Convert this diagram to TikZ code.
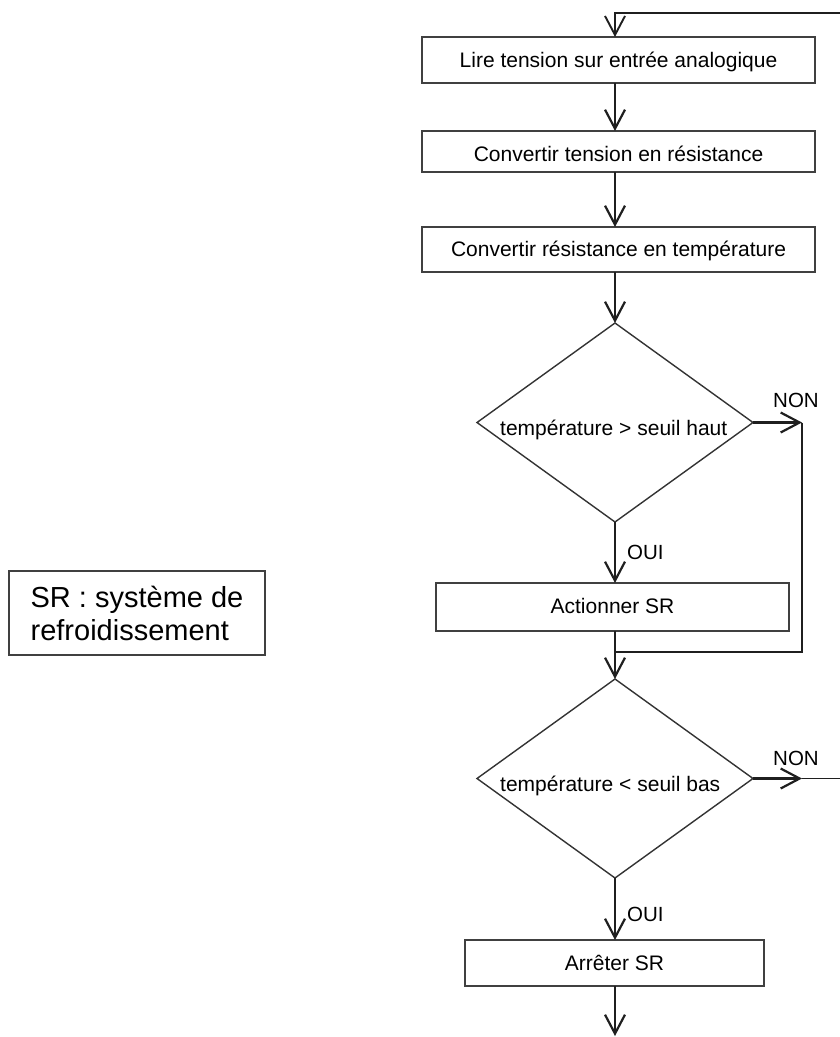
\documentclass[tikz,border=0pt]{standalone}
\usepackage{fontspec}
\setmainfont{Liberation Sans}
\usetikzlibrary{arrows.meta,shapes.geometric}
\begin{document}
\begin{tikzpicture}[x=1pt,y=-1pt,
  box/.style={draw=black!75, line width=1.2pt, rectangle, inner sep=0pt, outer sep=0pt,
              font=\fontsize{21}{25}\selectfont, text depth=0pt},
  srbox/.style={draw=black!75, line width=1.2pt, rectangle, inner sep=0pt, outer sep=0pt,
              align=left, font=\fontsize{29}{33}\selectfont},
  dec/.style={draw=black!80, line width=1.4pt, diamond, inner sep=0pt, outer sep=0pt},
  conn/.style={draw=black!88, line width=2.2pt, -{Straight Barb[length=19pt,width=20pt]}},
  plain/.style={draw=black!88, line width=2pt},
  lbl/.style={font=\fontsize{20.5}{24}\selectfont, anchor=base west, inner sep=0pt},
  dtxt/.style={font=\fontsize{21}{25}\selectfont, anchor=base west, inner sep=0pt}]
\useasboundingbox (0,0) rectangle (840,1037);

% process boxes
\node[box, minimum width=393pt, minimum height=46pt, text height=14pt] (b1) at (618.5,60) {Lire tension sur entrée analogique};
\node[box, minimum width=393pt, minimum height=41pt, text height=19pt] (b2) at (618.5,151.5) {Convertir tension en résistance};
\node[box, minimum width=393pt, minimum height=45pt, text height=13pt] (b3) at (618.5,249.5) {Convertir résistance en température};
\node[box, minimum width=353pt, minimum height=48pt, text height=12pt] (b4) at (612.5,607) {Actionner SR};
\node[box, minimum width=299pt, minimum height=46pt, text height=14pt] (b5) at (614.5,963) {Arrêter SR};

% decisions
\node[dec, minimum width=276pt, minimum height=199pt] (d1) at (615,422.5) {};
\node[dec, minimum width=276pt, minimum height=199pt] (d2) at (615,778.5) {};
\node[dtxt] (t1) at (500,435) {température > seuil haut};
\node[dtxt] (t2) at (500,791) {température < seuil bas};

% labels
\node[lbl] (oui1) at (627,559) {OUI};
\node[lbl] (non1) at (773,407) {NON};
\node[lbl] (oui2) at (627,921) {OUI};
\node[lbl] (non2) at (773,765) {NON};

% legend
\node[srbox, minimum width=256pt, minimum height=84pt] (sr) at (137,613) {SR : système de\\refroidissement};

% coordinates
\coordinate (top) at (840,13);
\coordinate (r1) at (802,422.5);
\coordinate (j1) at (615,652);
\coordinate (r2) at (802,778.5);
\coordinate (out2) at (840,778.5);
\coordinate (fin) at (615,1036);

% connectors
\draw[conn, line width=1.9pt] (top) -- (top -| d1.north) -- (b1.north -| d1.north);
\draw[conn] (b1.south -| d1.north) -- (b2.north -| d1.north);
\draw[conn] (b2.south -| d1.north) -- (b3.north -| d1.north);
\draw[conn] (b3.south -| d1.north) -- (d1.north);
\draw[conn] (d1.south) -- (b4.north -| d1.south);
\draw[conn] (d1.east) -- (r1);
\draw[plain] (r1) -- (r1 |- j1) -- (j1);
\draw[conn] (b4.south -| d1.south) -- (d2.north);
\draw[conn] (d2.east) -- (r2);
\draw[plain, line width=1.3pt] (r2) -- (out2);
\draw[conn] (d2.south) -- (b5.north -| d2.south);
\draw[conn] (b5.south -| d2.south) -- (fin);
\end{tikzpicture}
\end{document}
